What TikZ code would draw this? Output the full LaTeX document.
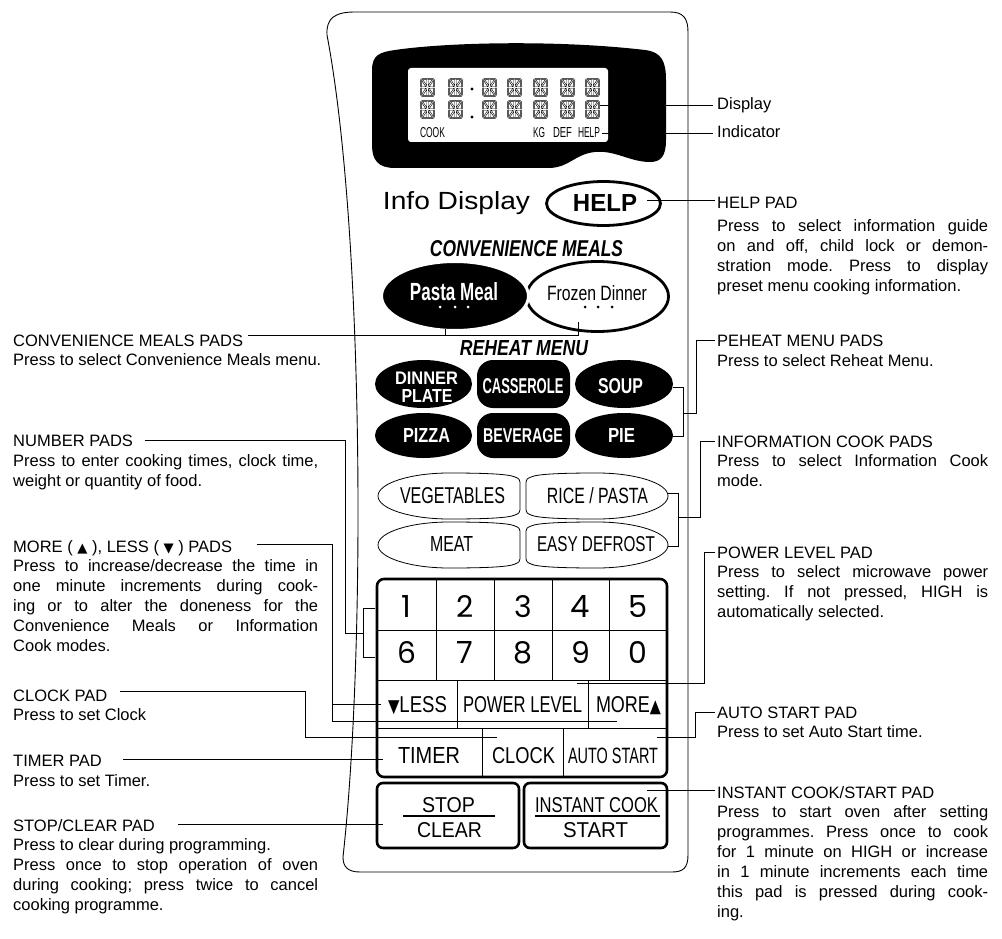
\documentclass[tikz,border=0pt]{standalone}
\usepackage{fontspec}
\usepackage{graphicx}
\setmainfont{Liberation Sans}
\newfontfamily\trifont{DejaVu Sans}
\newfontfamily\keyfont{Poppins}
\newcommand\jline[1]{\hbox to\hsize{#1}}
\newcommand\pline[1]{\hbox{#1}}
\newcommand\fitbox[3]{\resizebox{#1pt}{#2pt}{#3}}
\newcommand\keydigit[1]{\resizebox{!}{22pt}{\keyfont #1}}
\newcommand\tri[1]{{\trifont\scalebox{0.8}{#1}}}
\frenchspacing
\tikzset{
  conn/.style={line width=0.75pt},
  txt/.style={anchor=base west, inner sep=0pt, font=\fontsize{16.5}{19.9}\selectfont\frenchspacing},
  plab/.style={anchor=base, inner sep=0pt},
  gridline/.style={line width=0.9pt},
  thickbox/.style={line width=2.6pt, rounded corners=7pt},
  segd/.style={line width=0.6pt, double=white, double distance=0.7pt},
  lcdchar/.pic={
    \draw[segd] (1.5,1)--(13.5,1) (1.5,18)--(13.5,18) (1,1.5)--(1,9) (1,10)--(1,17.5)
      (14,1.5)--(14,9) (14,10)--(14,17.5) (1.5,9.5)--(7,9.5) (8,9.5)--(13.5,9.5)
      (7.5,2)--(7.5,9) (7.5,10)--(7.5,17) (2.5,2.5)--(6.5,8.5) (12.5,2.5)--(8.5,8.5)
      (2.5,16.5)--(6.5,10.5) (12.5,16.5)--(8.5,10.5);
  },
  lpad/.pic={
    \draw[line width=0.8pt, fill=white] (-71,0) .. controls (-71,-13) and (-38,-23) .. (0,-23)
      .. controls (35,-23) and (60,-22) .. (66,-19) .. controls (70,-17.5) and (71,-16) .. (71,-14)
      -- (71,14) .. controls (71,16) and (70,17.5) .. (66,19) .. controls (60,22) and (35,23) .. (0,23)
      .. controls (-38,23) and (-71,13) .. (-71,0) -- cycle;
  }
}
\begin{document}
\begin{tikzpicture}[x=1pt,y=-1pt]
\useasboundingbox (0,0) rectangle (1002,939);

% panel outline
\draw[line width=0.9pt, fill=white] (355,12) -- (670,12) .. controls (683,12) and (688,18) .. (688,32)
  -- (688,855) .. controls (688,868) and (683,872) .. (672,872) -- (360,872)
  .. controls (347,872) and (343,866) .. (343,857) .. controls (366,650) and (364,230) .. (327,35)
  .. controls (326,18) and (335,12) .. (355,12) -- cycle;

% display
\fill (372,70) .. controls (372,55) and (380,52) .. (395,50) .. controls (450,42) and (560,40) .. (645,50)
  .. controls (662,52) and (666,62) .. (666,80) -- (666,140) .. controls (666,156) and (661,162) .. (650,162)
  .. controls (630,162) and (615,150) .. (595,152) .. controls (575,154) and (570,167) .. (550,168)
  -- (395,168) .. controls (378,168) and (372,160) .. (372,145) -- cycle;
\fill[white, rounded corners=3pt] (408,68) rectangle (608,142);
\foreach \x in {420,448,482,507,533,560,585} {
  \pic at (\x,78) {lcdchar};
  \pic at (\x,100) {lcdchar};
}
\fill (472,89) circle (1.6);
\fill (472,117) circle (1.6);
\node[plab] (dcook) at (432.5,138) {\fitbox{25}{10}{COOK}};
\node[plab] (dkg) at (539,138) {\fitbox{12}{10}{KG}};
\node[plab] (ddef) at (562.5,138) {\fitbox{19}{10}{DEF}};
\node[plab] (dhelp) at (589,138) {\fitbox{22}{10}{HELP}};

% info display and help
\node[plab] (infod) at (456.5,210) {\fitbox{147}{18}{Info Display}};
\draw[line width=2.8pt, fill=white] (603.5,203.5) ellipse [x radius=57, y radius=22];
\node[plab] (helpk) at (605,212) {\fitbox{64}{17}{\bfseries HELP}};

% convenience meals
\node[plab] (convm) at (526.5,256) {\fitbox{193}{16}{\bfseries\itshape CONVENIENCE MEALS}};
\draw[line width=2.8pt, fill=white] (597.5,296.5) ellipse [x radius=71, y radius=35];
\draw[line width=3pt, draw=white, fill=black] (455,296) ellipse [x radius=73.5, y radius=34.5];
\node[plab, text=white] (pasta) at (454,300) {\fitbox{88}{18}{\bfseries Pasta Meal}};
\node[plab] (frozen) at (597,300) {\fitbox{100}{15}{Frozen Dinner}};
\foreach \x in {440,455,468} \fill[white] (\x,307) circle (1.5);
\foreach \x in {585,598,612} \fill (\x,307) circle (1.5);

% reheat menu
\node[plab] (reheat) at (524,355) {\fitbox{128}{15}{\bfseries\itshape REHEAT MENU}};
\fill (423.5,384) ellipse [x radius=48.5, y radius=24];
\fill[rounded corners=16pt] (477,360) rectangle (570,408);
\fill (624,384) ellipse [x radius=49, y radius=24];
\fill (423.5,435.5) ellipse [x radius=48.5, y radius=22.5];
\fill[rounded corners=16pt] (477,413) rectangle (570,458);
\fill (624,435.5) ellipse [x radius=49, y radius=22.5];
\begin{scope}[every node/.append style={text=white}]
\node[plab] (dinner) at (426.5,384) {\fitbox{63}{12.5}{\bfseries DINNER}};
\node[plab] (plate) at (427,402) {\fitbox{51}{13}{\bfseries PLATE}};
\node[plab] (cass) at (523,393) {\fitbox{81}{15}{\bfseries CASSEROLE}};
\node[plab] (soup) at (620.5,393) {\fitbox{45}{15}{\bfseries SOUP}};
\node[plab] (pizza) at (426.5,442) {\fitbox{47}{14}{\bfseries PIZZA}};
\node[plab] (bev) at (523,442) {\fitbox{80}{14}{\bfseries BEVERAGE}};
\node[plab] (pie) at (621.5,442) {\fitbox{27}{14}{\bfseries PIE}};
\end{scope}

% information cook pads
\pic at (449,496) {lpad};
\pic[xscale=-1] at (597,496) {lpad};
\pic at (449,545) {lpad};
\pic[xscale=-1] at (597,545) {lpad};
\node[plab] (veg) at (452.5,503) {\fitbox{105}{16}{VEGETABLES}};
\node[plab] (rice) at (597.5,503) {\fitbox{101}{16}{RICE / PASTA}};
\node[plab] (meat) at (451.5,551) {\fitbox{43}{15}{MEAT}};
\node[plab] (easy) at (596,551) {\fitbox{118}{15}{EASY DEFROST}};

% keypad
\draw[gridline] (377,630) -- (667,630) (377,680) -- (667,680) (377,728) -- (667,728);
\foreach \x in {436,494,552,609} \draw[gridline] (\x,579) -- (\x,680);
\foreach \x in {457,588} \draw[gridline] (\x,680) -- (\x,728);
\foreach \x in {482,563} \draw[gridline] (\x,728) -- (\x,777);
\draw[thickbox] (377,579) rectangle (667,777);
\node[plab] (k1) at (406.5,617) {\keydigit{1}};
\node[plab] (k2) at (465,617) {\keydigit{2}};
\node[plab] (k3) at (523,617) {\keydigit{3}};
\node[plab] (k4) at (580.5,617) {\keydigit{4}};
\node[plab] (k5) at (638,617) {\keydigit{5}};
\node[plab] (k6) at (406.5,663) {\keydigit{6}};
\node[plab] (k7) at (465,663) {\keydigit{7}};
\node[plab] (k8) at (523,663) {\keydigit{8}};
\node[plab] (k9) at (580.5,663) {\keydigit{9}};
\node[plab] (k0) at (638,663) {\keydigit{0}};
\node[plab] (kless) at (417.5,712.5) {\fitbox{59}{16}{\tri{▼}LESS}};
\node[plab] (kpower) at (522.5,712.5) {\fitbox{119}{16}{POWER LEVEL}};
\node[plab] (kmore) at (628.5,712.5) {\fitbox{65}{16}{MORE\tri{▲}}};
\node[plab] (ktimer) at (429,763) {\fitbox{62}{16}{TIMER}};
\node[plab] (kclock) at (523.5,763) {\fitbox{63}{16}{CLOCK}};
\node[plab] (kauto) at (613,763) {\fitbox{90}{15.5}{AUTO START}};

% stop / instant cook
\draw[thickbox, rounded corners=6pt] (377,783) rectangle (519,848);
\draw[thickbox, rounded corners=6pt] (524,783) rectangle (667,848);
\node[plab] (kstop) at (448.5,812) {\fitbox{53}{15}{STOP}};
\node[plab] (kclear) at (449.5,837) {\fitbox{65}{15}{CLEAR}};
\node[plab] (kinst) at (596.5,812) {\fitbox{123}{15}{INSTANT COOK}};
\node[plab] (kstart) at (595.5,837) {\fitbox{65}{15}{START}};
\draw[line width=1.5pt] (403,816) -- (495,816);
\draw[line width=1.5pt] (535,816) -- (660,816);

% connector end points
\coordinate (cDisp) at (600,105);
\coordinate (cDispL) at (713,105);
\coordinate (cInd) at (602,133);
\coordinate (cIndL) at (713,133);
\coordinate (cHelp) at (647,200);
\coordinate (cHelpL) at (715,200);
\coordinate (cConvL) at (248,335);
\coordinate (cPasta) at (445,329);
\coordinate (cFrozen) at (578,322);
\coordinate (cNumL) at (145,440);
\coordinate (cMoreL) at (257,544);
\coordinate (cLess) at (381,704);
\coordinate (cMore) at (617,721);
\coordinate (cClockL) at (120,691);
\coordinate (cClock) at (497,737);
\coordinate (cTimerL) at (123,759);
\coordinate (cTimer) at (383,759);
\coordinate (cStopL) at (178,824);
\coordinate (cStop) at (383,824);
\coordinate (cReheatL) at (715,340);
\coordinate (cInfoL) at (715,441);
\coordinate (cPowerL) at (715,552);
\coordinate (cPower) at (577,683);
\coordinate (cAutoL) at (715,712);
\coordinate (cAuto) at (657,737);
\coordinate (cInstL) at (715,790);
\coordinate (cInst) at (647,790);

% connectors
\draw[conn] (cDisp) -- (cDispL);
\draw[conn] (cInd) -- (cIndL);
\draw[conn] (cHelp) -- (cHelpL);
\draw[conn] (cConvL) -- (578,335) -- (cFrozen);
\draw[conn] (cPasta) -- (445,335);
\draw[conn] (cNumL) -- (345,440) -- (345,633) -- (363,633);
\draw[conn] (375,608) -- (363,608) -- (363,657) -- (375,657);
\draw[conn] (cMoreL) -- (332,544) -- (332,721) -- (cMore);
\draw[conn] (332,704) -- (cLess);
\draw[conn] (cClockL) -- (305,691) -- (305,737) -- (cClock);
\draw[conn] (cTimerL) -- (cTimer);
\draw[conn] (cStopL) -- (cStop);
\draw[conn] (673,387) -- (683,387) -- (683,436) -- (673,436);
\draw[conn] (683,413) -- (696,413) -- (696,340) -- (cReheatL);
\draw[conn] (668,493) -- (678,493) -- (678,546) -- (668,546);
\draw[conn] (678,517) -- (700,517) -- (700,441) -- (cInfoL);
\draw[conn] (cPower) -- (704,683) -- (704,552) -- (cPowerL);
\draw[conn] (cAuto) -- (695,737) -- (695,712) -- (cAutoL);
\draw[conn] (cInst) -- (cInstL);

% left texts
\node[txt] (tConv) at (13,346) {\vtop{\hsize=305pt
  \pline{CONVENIENCE MEALS PADS}\pline{Press to select Convenience Meals menu.}}};
\node[txt] (tNum) at (13,446.5) {\vtop{\hsize=305pt
  \pline{NUMBER PADS}\jline{Press to enter cooking times, clock time,}\pline{weight or quantity of food.}}};
\node[txt] (tMore) at (13,552) {\vtop{\hsize=305pt
  \pline{MORE ( \tri{▲} ), LESS ( \tri{▼} ) PADS}
  \jline{Press to increase/decrease the time in}
  \jline{one minute increments during cook-}
  \jline{ing or to alter the doneness for the}
  \jline{Convenience Meals or Information}
  \pline{Cook modes.}}};
\node[txt] (tClock) at (13,701) {\vtop{\hsize=305pt
  \pline{CLOCK PAD}\pline{Press to set Clock}}};
\node[txt] (tTimer) at (13,766.5) {\vtop{\hsize=305pt
  \pline{TIMER PAD}\pline{Press to set Timer.}}};
\node[txt] (tStop) at (13,831) {\vtop{\hsize=305pt
  \pline{STOP/CLEAR PAD}
  \pline{Press to clear during programming.}
  \jline{Press once to stop operation of oven}
  \jline{during cooking; press twice to cancel}
  \pline{cooking programme.}}};

% right texts
\node[txt] (tDisp) at (717,110) {Display};
\node[txt] (tInd) at (717,138) {Indicator};
\node[txt] (tHelp) at (717,208) {\vtop{\hsize=271pt
  \pline{HELP PAD}\vskip4pt
  \jline{Press to select information guide}
  \jline{on and off, child lock or demon-}
  \jline{stration mode. Press to display}
  \pline{preset menu cooking information.}}};
\node[txt] (tReheat) at (717,346.5) {\vtop{\hsize=271pt
  \pline{PEHEAT MENU PADS}\pline{Press to select Reheat Menu.}}};
\node[txt] (tInfo) at (717,447) {\vtop{\hsize=271pt
  \pline{INFORMATION COOK PADS}\jline{Press to select Information Cook}\pline{mode.}}};
\node[txt] (tPower) at (717,558) {\vtop{\hsize=271pt
  \pline{POWER LEVEL PAD}
  \jline{Press to select microwave power}
  \jline{setting. If not pressed, HIGH is}
  \pline{automatically selected.}}};
\node[txt] (tAuto) at (717,718) {\vtop{\hsize=271pt
  \pline{AUTO START PAD}\pline{Press to set Auto Start time.}}};
\node[txt] (tInst) at (717,798) {\vtop{\hsize=271pt
  \pline{INSTANT COOK/START PAD}
  \jline{Press to start oven after setting}
  \jline{programmes. Press once to cook}
  \jline{for 1 minute on HIGH or increase}
  \jline{in 1 minute increments each time}
  \jline{this pad is pressed during cook-}
  \pline{ing.}}};
\end{tikzpicture}
\end{document}
